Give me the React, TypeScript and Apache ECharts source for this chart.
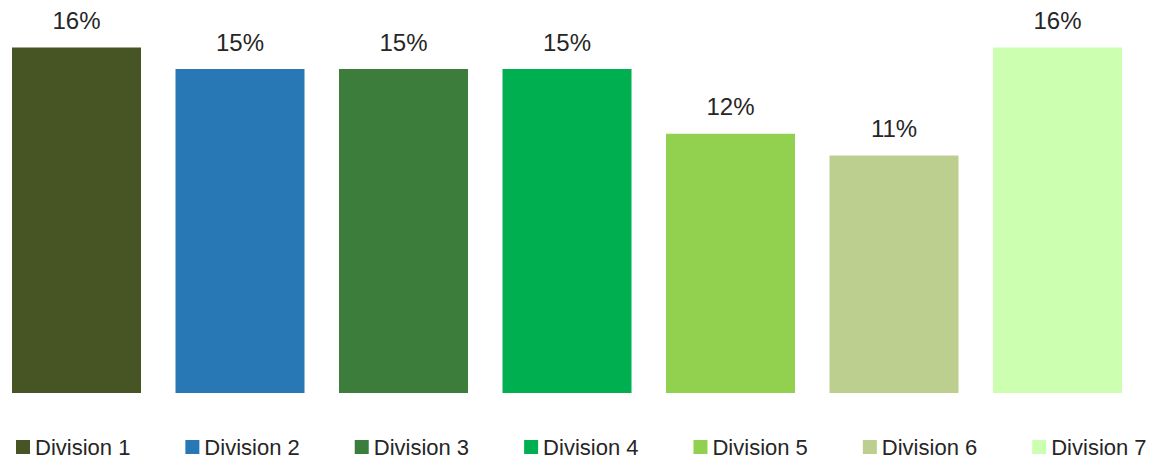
import React, { useEffect, useRef } from "react";
import * as echarts from "echarts";

const categories = ["Division 1", "Division 2", "Division 3", "Division 4", "Division 5", "Division 6", "Division 7"];
const values = [0.16, 0.15, 0.15, 0.15, 0.12, 0.11, 0.16];
const colors = ["#475524", "#2878B5", "#3D7D3B", "#00B050", "#92D050", "#BDCF8F", "#CCFFAF"];

export default function App() {
  const ref = useRef<HTMLDivElement>(null);
  useEffect(() => {
    if (!ref.current) return;
    const chart = echarts.init(ref.current, null, { renderer: "svg" });
    const font = "'Liberation Sans', Arial, sans-serif";
    chart.setOption({
      animation: false,
      textStyle: { fontFamily: font },
      grid: { left: 0.75, right: 13.75, top: 4.2, bottom: 66, containLabel: false },
      xAxis: {
        type: "category",
        data: categories,
        show: false,
      },
      yAxis: { type: "value", min: 0, max: 0.18, show: false },
      legend: {
        left: 22,
        top: 436,
        padding: 0,
        itemWidth: 14,
        itemHeight: 14,
        itemGap: 55,
        icon: "rect",
        textStyle: { fontSize: 22, color: "#262626", fontFamily: font },
        data: categories,
      },
      series: categories.map((name, i) => ({
        name,
        type: "bar",
        stack: "all",
        barWidth: 129,
        itemStyle: { color: colors[i] },
        label: {
          show: true,
          position: "top",
          distance: 15,
          fontSize: 24,
          color: "#262626",
          fontFamily: font,
          formatter: (p: any) => Math.round(p.value * 100) + "%",
        },
        data: values.map((v, j) => (j === i ? v : null)),
      })),
    });
    return () => chart.dispose();
  }, []);
  return (
    <div
      ref={ref}
      style={{ position: "absolute", left: -6, top: 0, width: 1159, height: 459, background: "#fff" }}
    />
  );
}
